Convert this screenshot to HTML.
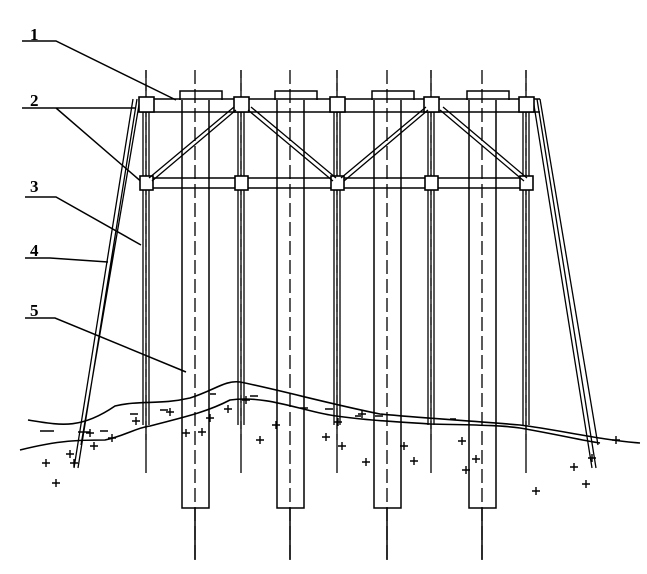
<!DOCTYPE html><html><head><style>body{margin:0;background:#fff}svg{display:block}</style></head><body>
<svg width="647" height="574" viewBox="0 0 647 574" xmlns="http://www.w3.org/2000/svg" fill="none" stroke="#000" stroke-width="1.5" font-family="Liberation Serif, serif">
<!-- labels -->
<g font-size="17" font-weight="bold" fill="#000" stroke="none">
<text x="30" y="40">1</text><text x="30" y="106">2</text><text x="30" y="192">3</text><text x="30" y="256">4</text><text x="30" y="316">5</text></g>
<path d="M22 41H56L176 100M22 108H56L136 108M56 108L144 184M25 197H56L141 245M25 258H50L108 262M25 318H55L186 372"/>
<!-- braces -->
<path d="M133 99L74 468M137 99L78 468M140 99L81 445M533 99L592 468M537 99L596 468M540 99L598 445" stroke-width="1.3"/>
<!-- big piles -->
<g id="p">
<path d="M182 100V508H209V100M180 100V91H222V100"/>
<path d="M195 70V560" stroke-dasharray="14,5" stroke-width="1.3"/>
<path d="M195 508V560"/>
</g>
<use href="#p" x="95"/><use href="#p" x="192"/><use href="#p" x="287"/>
<!-- beams -->
<path d="M140 99H540M140 112H540M140 178H530M140 188H530" stroke-width="1.6"/>
<!-- columns -->
<g id="c">
<path d="M143 110V425M149 110V425M146 70V473" stroke-width="1.3"/>
<path d="M146 70V440" stroke-dasharray="8,5" stroke-width="1.2"/>
<rect x="139" y="97" width="15" height="15" fill="#fff" stroke-width="1.6"/>
<rect x="140" y="176" width="13" height="14" fill="#fff" stroke-width="1.6"/>
</g>
<use href="#c" x="95"/><use href="#c" x="191"/><use href="#c" x="285"/><use href="#c" x="380"/>
<!-- diagonals -->
<path d="M152 181L236 110M149 178L234 107M248 110L333 181M251 107L336 178M344 181L428 110M341 178L426 107M440 110L524 181M443 107L527 178" stroke-width="1.3"/>
<!-- seabed -->
<path d="M28 420C60 425 80 430 115 406C140 400 160 405 190 398C215 390 225 380 240 382C280 390 330 404 380 414C420 418 460 420 520 425C560 430 600 440 640 443" stroke-width="1.6"/>
<path d="M20 450C60 440 80 440 105 440C125 436 135 428 150 426C180 418 205 413 230 400C265 395 300 410 330 415C360 420 400 422 430 424C470 425 500 425 520 428C560 435 580 440 600 443" stroke-width="1.6"/>
<g stroke-width="1.6"><path d="M40 431h14M78 432h12M100 431h8M130 414h8M160 410h8M210 394h6M250 396h8M300 408h8M325 409h8M355 416h6M375 416h8M450 419h6"/></g>
<!-- plus signs -->
<g stroke-width="1.4">
<path id="pl" d="M42 463h8M46 459v8"/>
<use href="#pl" x="10" y="20"/><use href="#pl" x="28" y="0"/><use href="#pl" x="48" y="-17"/><use href="#pl" x="24" y="-9"/><use href="#pl" x="44" y="-30"/><use href="#pl" x="66" y="-25"/><use href="#pl" x="90" y="-42"/><use href="#pl" x="124" y="-51"/><use href="#pl" x="156" y="-31"/><use href="#pl" x="140" y="-30"/><use href="#pl" x="164" y="-45"/><use href="#pl" x="182" y="-54"/><use href="#pl" x="200" y="-63"/><use href="#pl" x="214" y="-23"/><use href="#pl" x="280" y="-26"/><use href="#pl" x="296" y="-17"/><use href="#pl" x="230" y="-38"/><use href="#pl" x="292" y="-41"/><use href="#pl" x="316" y="-49"/><use href="#pl" x="358" y="-17"/><use href="#pl" x="320" y="-1"/><use href="#pl" x="368" y="-2"/><use href="#pl" x="430" y="-4"/><use href="#pl" x="420" y="7"/><use href="#pl" x="490" y="28"/><use href="#pl" x="528" y="4"/><use href="#pl" x="546" y="-5"/><use href="#pl" x="570" y="-23"/><use href="#pl" x="540" y="21"/><use href="#pl" x="416" y="-22"/></g>
</svg>
</body></html>
